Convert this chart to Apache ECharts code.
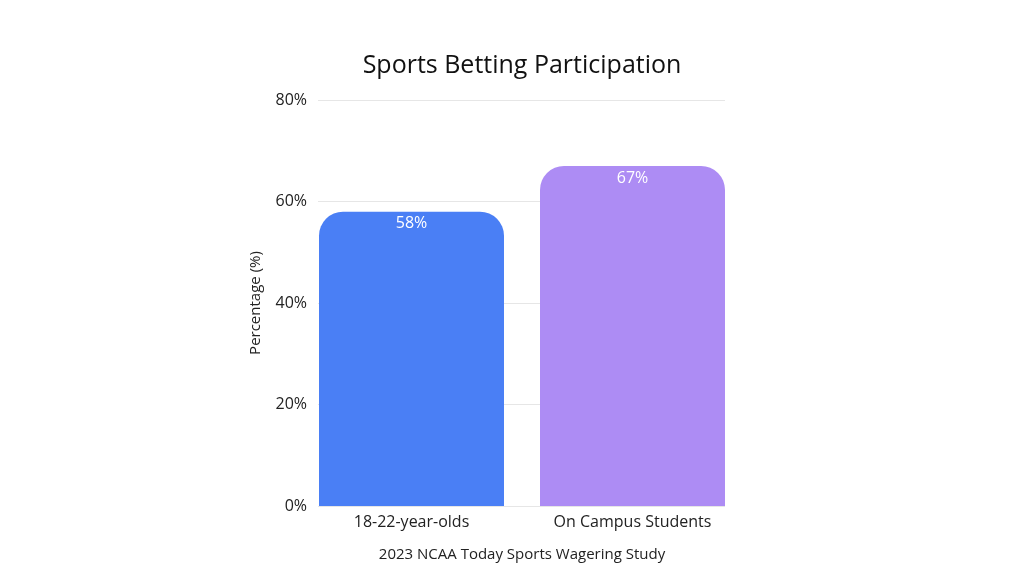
<!DOCTYPE html>
<html><head><meta charset="utf-8">
<script src="https://cdn.jsdelivr.net/npm/echarts@6/dist/echarts.min.js"></script>
<style>html,body{margin:0;padding:0;background:#fff}#c{width:1024px;height:576px}</style>
</head><body><div id="c"></div>
<script>
const categories = ['18-22-year-olds', 'On Campus Students'];
const values = [58, 67];
const colors = ['#4a7ff5', '#ad8cf4'];
const yTicks = [0, 20, 40, 60, 80];
const font = '"Open Sans", "Noto Sans", sans-serif';

const chart = echarts.init(document.getElementById('c'));
chart.setOption({
  backgroundColor: '#fff',
  animation: false,
  title: {
    text: 'Sports Betting Participation', left: 517, textAlign: 'center', top: 48,
    textStyle: { fontFamily: font, fontSize: 25, fontWeight: 'normal', color: '#111' }
  },
  grid: [
    { left: 318, right: 299, top: 100, bottom: 70 },
    { left: 301, right: 281, top: 100, bottom: 70 }
  ],
  xAxis: [
    { gridIndex: 0, type: 'category', data: categories, show: false },
    {
      gridIndex: 1, type: 'category', data: categories,
      axisLine: { show: false }, axisTick: { show: false },
      axisLabel: { fontFamily: font, fontSize: 16, color: '#222', margin: 8 },
      name: '2023 NCAA Today Sports Wagering Study', nameLocation: 'middle', nameGap: 41,
      nameTextStyle: { fontFamily: font, fontSize: 15, color: '#222' }
    }
  ],
  yAxis: [
    {
      gridIndex: 0, type: 'value', min: yTicks[0], max: yTicks[yTicks.length - 1], interval: 20,
      axisLine: { show: false }, axisTick: { show: false },
      axisLabel: { fontFamily: font, fontSize: 16, color: '#222', margin: 11, formatter: '{value}%' },
      splitLine: { lineStyle: { color: '#e6e6e6', width: 1 } },
      name: 'Percentage (%)', nameLocation: 'middle', nameGap: 55, nameRotate: 90,
      nameTextStyle: { fontFamily: font, fontSize: 15, color: '#222' }
    },
    { gridIndex: 1, type: 'value', min: 0, max: 80, show: false }
  ],
  series: [{
    type: 'bar', xAxisIndex: 1, yAxisIndex: 1, barWidth: 185,
    data: values.map((v, i) => ({ value: v, itemStyle: { color: colors[i] } })),
    itemStyle: { borderRadius: [24, 24, 0, 0] },
    label: {
      show: true, position: 'insideTop', distance: 4, formatter: '{c}%',
      fontFamily: font, fontSize: 16, color: '#fff'
    }
  }]
});
</script></body></html>
